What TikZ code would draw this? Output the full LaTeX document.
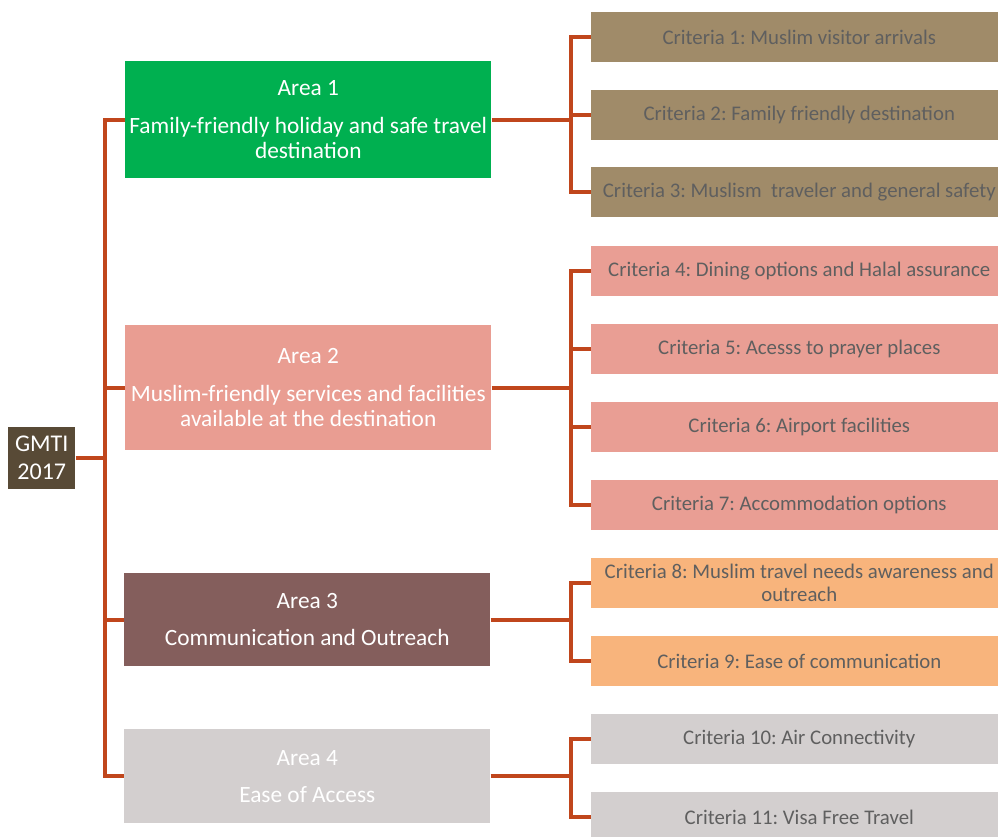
\documentclass[tikz,border=0pt]{standalone}
\usepackage{fontspec}
\setmainfont{Carlito}
\frenchspacing
\definecolor{gmti}{HTML}{584A36}
\definecolor{aone}{HTML}{00B050}
\definecolor{atwo}{HTML}{E99D92}
\definecolor{athree}{HTML}{845E5C}
\definecolor{afour}{HTML}{D3CFCF}
\definecolor{cone}{HTML}{A08B69}
\definecolor{ctwo}{HTML}{E99E94}
\definecolor{cthree}{HTML}{F8B47C}
\definecolor{cfour}{HTML}{D3CFCF}
\definecolor{ctext}{HTML}{5F5F5F}
\definecolor{conn}{HTML}{C0461C}
\tikzset{
  areabox/.style={anchor=north west, inner sep=0pt, minimum width=366*0.75pt, align=center, text=white, font=\fontsize{17.5}{19}\selectfont},
  critbox/.style={anchor=north west, inner sep=0pt, minimum width=416*0.75pt, minimum height=50*0.75pt, align=center, text=ctext, font=\fontsize{15.6}{17.3}\selectfont},
  gmtibox/.style={anchor=north west, inner sep=0pt, minimum width=67*0.75pt, minimum height=62*0.75pt, align=center, text=white, font=\fontsize{18}{21}\selectfont},
  connline/.style={draw=conn, line width=3pt},
}
\begin{document}
\begin{tikzpicture}[x=0.75pt,y=-0.75pt]
\useasboundingbox (0,0) rectangle (998,836);
% GMTI
\node[gmtibox, fill=gmti] (g) at (8,427) {GMTI\\2017};
% Areas
\node[areabox, fill=aone, minimum height=117*0.75pt] (a1) at (125,61) {Area 1\\[9pt]Family-friendly holiday and safe travel\\destination};
\node[areabox, fill=atwo, minimum height=125*0.75pt] (a2) at (125,325) {Area 2\\[9pt]Muslim-friendly services and facilities\\available at the destination};
\node[areabox, fill=athree, minimum height=93*0.75pt] (a3) at (124,573) {Area 3\\[9pt]Communication and Outreach};
\node[areabox, fill=afour, minimum height=94*0.75pt] (a4) at (124,729) {Area 4\\[9pt]Ease of Access};
% Criteria
\node[critbox, fill=cone] (c1) at (591,12) {Criteria 1: Muslim visitor arrivals};
\node[critbox, fill=cone] (c2) at (591,90) {Criteria 2: Family friendly destination};
\node[critbox, fill=cone] (c3) at (591,167) {Criteria 3: Muslism\ \ traveler and general safety};
\node[critbox, fill=ctwo] (c4) at (591,246) {Criteria 4: Dining options and Halal assurance};
\node[critbox, fill=ctwo] (c5) at (591,324) {Criteria 5: Acesss to prayer places};
\node[critbox, fill=ctwo] (c6) at (591,402) {Criteria 6: Airport facilities};
\node[critbox, fill=ctwo] (c7) at (591,480) {Criteria 7: Accommodation options};
\node[critbox, fill=cthree] (c8) at (591,558) {Criteria 8: Muslim travel needs awareness and\\outreach};
\node[critbox, fill=cthree] (c9) at (591,636) {Criteria 9: Ease of communication};
\node[critbox, fill=cfour] (c10) at (591,714) {Criteria 10: Air Connectivity};
\node[critbox, fill=cfour] (c11) at (591,792) {Criteria 11: Visa Free Travel};
% coordinates
\coordinate (trunk) at (105,0);
\coordinate (brk) at (571,0);
% trunk connectors
\draw[connline] (a1.west) -- (a1.west -| trunk) |- (a4.west);
\draw[connline] (a2.west) -- (a2.west -| trunk);
\draw[connline] (a3.west) -- (a3.west -| trunk);
\draw[connline] (g.east) -- (g.east -| trunk);
% bracket connectors
\draw[connline] (a1.east) -- (a1.east -| brk);
\draw[connline] (c1.west) -- (c1.west -| brk) |- (c3.west);
\draw[connline] (c2.west) -- (c2.west -| brk);
\draw[connline] (a2.east) -- (a2.east -| brk);
\draw[connline] (c4.west) -- (c4.west -| brk) |- (c7.west);
\draw[connline] (c5.west) -- (c5.west -| brk);
\draw[connline] (c6.west) -- (c6.west -| brk);
\draw[connline] (a3.east) -- (a3.east -| brk);
\draw[connline] (c8.west) -- (c8.west -| brk) |- (c9.west);
\draw[connline] (a4.east) -- (a4.east -| brk);
\draw[connline] (c10.west) -- (c10.west -| brk) |- (c11.west);
\end{tikzpicture}
\end{document}
